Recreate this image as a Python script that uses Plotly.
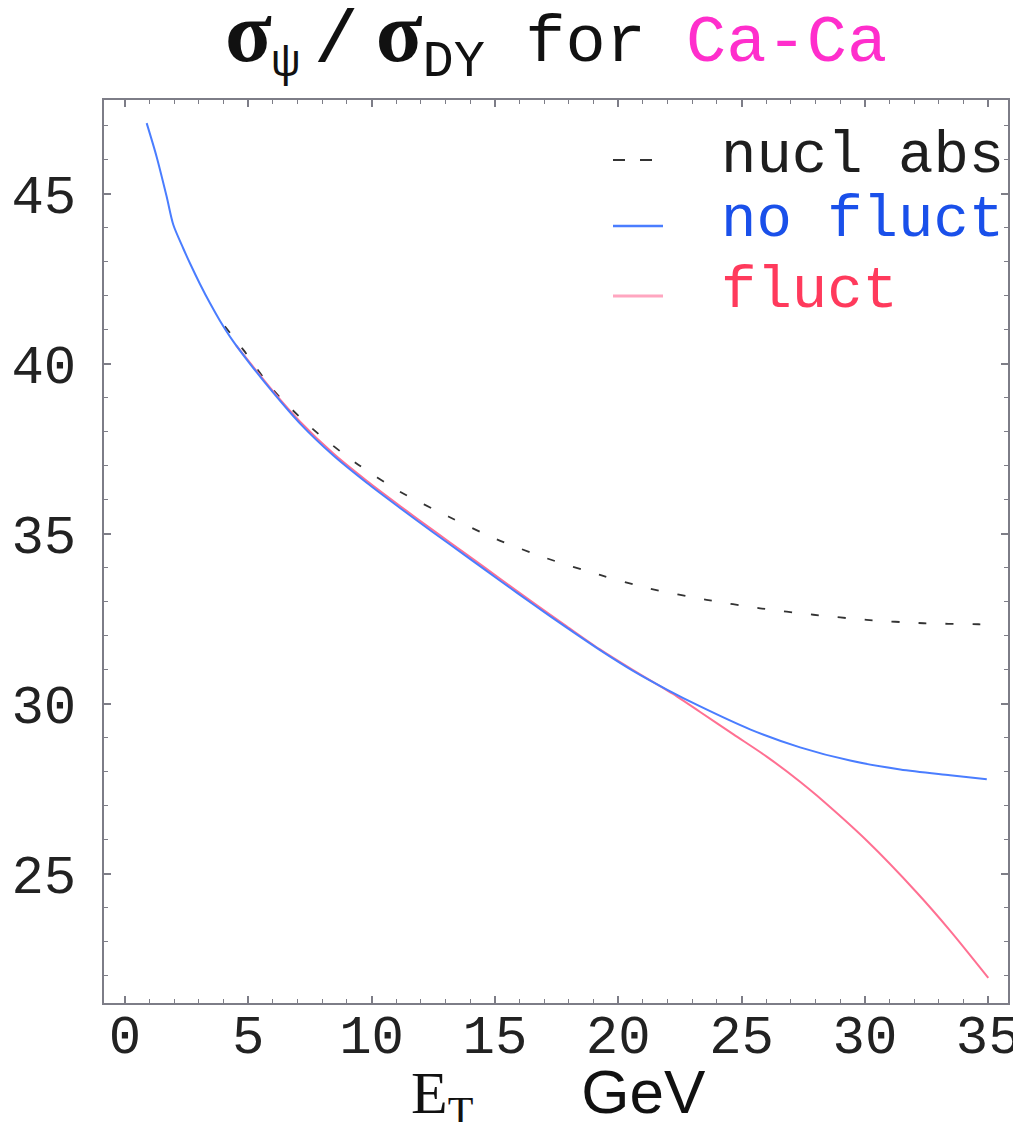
import plotly.graph_objects as go

# ---- data ----
x_nofluct = [0.88, 1.28, 1.69, 1.96, 2.36, 2.64, 3.04, 3.45, 3.85, 4.39, 5.07, 6.01, 7.1, 8.45,
             9.8, 11.15, 12.5, 13.86, 15.21, 16.56, 17.91, 19.26, 20.6, 21.97, 23.3, 25.34,
             27.37, 29.4, 31.43, 33.45, 34.94]
y_nofluct = [47.08, 46.1, 44.92, 44.09, 43.4, 42.95, 42.35, 41.78, 41.27, 40.66, 40.0, 39.15,
             38.24, 37.3, 36.5, 35.76, 35.04, 34.33, 33.62, 32.92, 32.24, 31.58, 30.97, 30.42,
             29.93, 29.25, 28.72, 28.33, 28.07, 27.9, 27.78]

x_fluct = [4.5, 6.0, 7.1, 8.45, 9.8, 11.15, 12.5, 13.86, 15.21, 16.56, 17.91, 19.26, 20.6,
           22.37, 23.32, 24.67, 26.03, 27.37, 28.05, 30.08, 32.1, 33.45, 35.0]
y_fluct = [40.55, 39.2, 38.3, 37.36, 36.56, 35.82, 35.1, 34.39, 33.68, 32.97, 32.28, 31.6,
           30.99, 30.22, 29.76, 29.1, 28.44, 27.71, 27.3, 25.97, 24.45, 23.33, 21.94]

x_nucl = [4.05, 4.8, 6.0, 7.57, 9.33, 11.15, 13.11, 15.07, 17.1, 19.26, 21.22, 23.58, 25.75,
          27.91, 30.07, 32.38, 34.6, 35.0]
y_nucl = [41.1, 40.41, 39.24, 38.11, 37.1, 36.24, 35.51, 34.84, 34.28, 33.79, 33.4, 33.06,
          32.81, 32.62, 32.47, 32.37, 32.34, 32.33]

x_ticks = [0, 5, 10, 15, 20, 25, 30, 35]
y_ticks = [25, 30, 35, 40, 45]

legend_names = ["nucl abs", "no fluct", "fluct"]
legend_text_colors = ["#1e1e1e", "#1a50ea", "#ff3a5c"]

MONO = "Liberation Mono, Courier New, monospace"
FRAME = "rgb(125,125,135)"
C_NUCL = "#333333"
C_NOFL = "#4a7dff"
C_FL = "#ff7092"

# the page body adds an 8px offset; lay the figure out in window pixels minus that offset
OFF = 8
W, H = 1021 - OFF, 1122 - OFF
PL, PR, PT, PB = 104 - OFF, 1008 - OFF, 100 - OFF, 1003 - OFF

def px(xw):
    return (xw - OFF - PL) / (PR - PL)

def py(yw):
    return (PB - (yw - OFF)) / (PB - PT)

fig = go.Figure()
fig.add_trace(go.Scatter(
    x=x_nucl, y=y_nucl, mode="lines", line_shape="spline", name=legend_names[0],
    line=dict(color=C_NUCL, width=1.8, dash="8px,19px", smoothing=0.8)))
fig.add_trace(go.Scatter(
    x=x_fluct, y=y_fluct, mode="lines", line_shape="spline", name=legend_names[2],
    line=dict(color=C_FL, width=2, smoothing=0.8)))
fig.add_trace(go.Scatter(
    x=x_nofluct, y=y_nofluct, mode="lines", line_shape="spline", name=legend_names[1],
    line=dict(color=C_NOFL, width=2, smoothing=0.8)))

axis_common = dict(
    showline=True, linecolor=FRAME, linewidth=2, mirror="ticks",
    ticks="inside", ticklen=7, tickwidth=1.5, tickcolor=FRAME,
    showgrid=False, zeroline=False, automargin=False,
    tickfont=dict(family=MONO, size=54, color="#222222"),
    minor=dict(dtick=1, ticks="inside", ticklen=4, tickwidth=1.2, tickcolor=FRAME),
)

# ---- manual legend (keys in paper coordinates) ----
key_rows = [160, 226, 296]
text_rows = [156, 221, 292]
key_styles = [dict(color=C_NUCL, width=2, dash="12px,15px"),
              dict(color=C_NOFL, width=2.5),
              dict(color="#ffa6c0", width=3)]
shapes = []
annotations = []
for i in range(3):
    shapes.append(dict(type="line", xref="paper", yref="paper",
                       x0=px(613), x1=px(663 if i else 652), y0=py(key_rows[i]), y1=py(key_rows[i]),
                       line=key_styles[i]))
    annotations.append(dict(xref="paper", yref="paper", x=px(719), y=py(text_rows[i]),
                            xanchor="left", yanchor="middle", showarrow=False,
                            text=legend_names[i],
                            font=dict(family=MONO, size=59, color=legend_text_colors[i])))

# x-axis title
annotations.append(dict(
    xref="paper", yref="paper", x=px(558), y=py(1096), xanchor="center", yanchor="middle",
    showarrow=False,
    text="<span style='font-family:Liberation Serif'>E<sub>T</sub></span>"
         "\u00a0\u00a0\u00a0<span style='font-family:Liberation Sans;font-size:62px'>GeV</span>",
    font=dict(family=MONO, size=60, color="#111111")))

SIG = "<span style='font-family:Liberation Serif;font-size:86px'><b>σ</b></span>"
title_text = (SIG + "<sub>ψ</sub>\u2009"
              "<span style='font-size:82px'>/</span>\u2009"
              + SIG + "<sub><span style='font-size:52px'>DY</span></sub> for "
              "<span style='color:#ff2ecc'>Ca-Ca</span>")

fig.update_layout(
    width=W, height=H,
    margin=dict(l=PL, r=W - PR, t=PT, b=H - PB, pad=0),
    paper_bgcolor="white", plot_bgcolor="white",
    showlegend=False,
    title=dict(text=title_text, xref="paper", x=0.5, xanchor="center",
               y=1 - 30 / H, yanchor="middle",
               font=dict(family=MONO, size=67, color="#111111")),
    xaxis=dict(axis_common, range=[-0.85, 35.8], tickvals=x_ticks,
               ticklabelstandoff=-17, ticklabeloverflow="allow"),
    yaxis=dict(axis_common, range=[21.2, 47.76], tickvals=y_ticks, ticklabelstandoff=15,
               ticklabeloverflow="allow"),
    shapes=shapes,
    annotations=annotations,
)

fig.write_html("out.html")
